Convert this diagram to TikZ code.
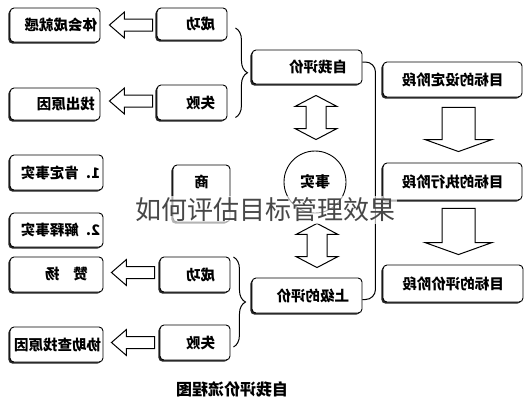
\documentclass[tikz,border=0pt]{standalone}
\usepackage{fontspec}
\usepackage{graphicx}
\newfontfamily\cjk{Noto Sans CJK SC}
\usetikzlibrary{calc,shadows,decorations.pathreplacing}
\newcommand\mir[1]{\reflectbox{#1}}
\tikzset{
  box/.style={draw, line width=0.9pt, rounded corners=4pt, fill=white, inner sep=0pt,
    font=\cjk\bfseries\fontsize{14.5}{16}\selectfont,
    drop shadow={shadow xshift=-1.6pt, shadow yshift=-1.6pt, opacity=1, fill=black!85}},
  rt/.style={text width=#1, align=right},
  hollow/.style={draw, line width=1pt, fill=white, line join=miter},
  bracestyle/.style={decorate, decoration={brace, amplitude=12pt}, line width=1pt},
  conn/.style={line width=1pt, rounded corners=10pt},
}
\newcommand\larrow[2]{\draw[hollow] let \p1=(#1), \p2=(#2) in
  (\x1,\y1) -- (\x1+15pt,\y1+13pt) -- (\x1+15pt,\y1+6pt) -- (\x2,\y1+6pt) --
  (\x2,\y1-6pt) -- (\x1+15pt,\y1-6pt) -- (\x1+15pt,\y1-13pt) -- cycle;}
\newcommand\vdarrow[2]{\draw[hollow] let \p1=(#1), \p2=(#2) in
  (\x1,\y1) -- (\x1+21pt,\y1-11pt) -- (\x1+10pt,\y1-11pt) -- (\x1+10pt,\y2+11pt) --
  (\x1+21pt,\y2+11pt) -- (\x1,\y2) -- (\x1-21pt,\y2+11pt) -- (\x1-10pt,\y2+11pt) --
  (\x1-10pt,\y1-11pt) -- (\x1-21pt,\y1-11pt) -- cycle;}
\newcommand\darrow[2]{\draw[hollow] let \p1=(#1), \p2=(#2) in
  (\x1-16.5pt,\y1) -- (\x1+16.5pt,\y1) -- (\x1+16.5pt,\y2+12pt) -- (\x1+33.5pt,\y2+12pt) --
  (\x1,\y2) -- (\x1-33.5pt,\y2+12pt) -- (\x1-16.5pt,\y2+12pt) -- cycle;}
\begin{document}
\begin{tikzpicture}[x=1pt,y=-1pt]
\useasboundingbox[fill=white] (0,0) rectangle (530,400);
% left column
\node[box, minimum width=90, minimum height=34, rt=84] (g1) at (55,25) {\mir{体会成就感}};
\node[box, minimum width=90, minimum height=32, rt=80] (g2) at (55,104) {\mir{找出原因}};
\node[box, minimum width=93, minimum height=35, rt=87] (g3) at (56.5,172.5) {\mir{1. 肯定事实}};
\node[box, minimum width=93, minimum height=34, rt=87] (g4) at (56.5,230) {\mir{2. 解释事实}};
\node[box, minimum width=93, minimum height=35, rt=63] (g5) at (56.5,274.5) {\mir{赞\hspace{14pt}扬}};
\node[box, minimum width=93, minimum height=35, rt=89] (g6) at (56.5,344.5) {\mir{协助查找原因}};
% second column
\node[box, minimum width=70, minimum height=32, rt=46] (s1) at (192,24) {\mir{成功}};
\node[box, minimum width=70, minimum height=35, rt=46] (s2) at (192,102.5) {\mir{失败}};
\node[box, minimum width=57, minimum height=57] (sh) at (201.5,193.5) {};
\node[font=\cjk\bfseries\fontsize{14.5}{16}\selectfont] (sht) at ($(sh.north)+(0,17)$) {\mir{商}};
\node[box, minimum width=70, minimum height=35, rt=40] (s3) at (195,274.5) {\mir{成功}};
\node[box, minimum width=70, minimum height=35, rt=40] (s4) at (195,342.5) {\mir{失败}};
% middle column
\node[box, minimum width=110, minimum height=34, rt=80] (m1) at (307,67) {\mir{自我评价}};
\node[circle, draw, line width=0.9pt, minimum size=62, inner sep=0pt, fill=white,
  font=\cjk\bfseries\fontsize{15}{16}\selectfont] (c) at (315,182) {\mir{事实}};
\node[box, minimum width=110, minimum height=35, rt=84] (m2) at (307,295.5) {\mir{上级的评价}};
% right column
\node[box, minimum width=139, minimum height=35] (r1) at (452.5,79.5) {\mir{目标的设定阶段}};
\node[box, minimum width=139, minimum height=37] (r2) at (452.5,181.5) {\mir{目标的执行阶段}};
\node[box, minimum width=140, minimum height=37] (r3) at (453,283.5) {\mir{目标的评价阶段}};
% hollow arrows
\larrow{$(g1.east)+(9,0)$}{$(s1.west)+(-4,0)$}
\larrow{$(g2.east)+(9,-3)$}{$(s2.west)+(-4,0)$}
\larrow{$(g5.east)+(8,-2)$}{$(s3.west)+(-5,0)$}
\larrow{$(g6.east)+(8,-2)$}{$(s4.west)+(-5,0)$}
\vdarrow{$(m1.south -| c.center)+(1,11)$}{$(c.north)+(1,-11)$}
\vdarrow{$(c.south)+(2,10)$}{$(m2.north -| c.center)+(2,-10)$}
\darrow{$(r1.south)+(6,10)$}{$(r2.north)+(6,-11)$}
\darrow{$(r2.south)+(6,8)$}{$(r3.north)+(5.5,-10)$}
% braces
\draw[bracestyle] ($(s1.east)+(8,4)$) -- ($(s2.east)+(8,15)$);
\draw[bracestyle] ($(s3.east)+(3,-17.5)$) -- ($(s4.east)+(3,4.5)$);
% connector between evaluations
\draw[conn] ([yshift=5pt]m1.east) -- ++(13,0) |- ([yshift=-4pt]m2.east);
% caption
\node[font=\cjk\bfseries\fontsize{16}{18}\selectfont] (cap) at (232,389) {\mir{自我评价流程图}};
% overlay title
\node[font=\cjk\fontsize{26}{28}\selectfont, text=black!72, fill=white, fill opacity=0.65,
  text opacity=1, inner sep=2pt] (ov) at (265,210) {如何评估目标管理效果};
\end{tikzpicture}
\end{document}
